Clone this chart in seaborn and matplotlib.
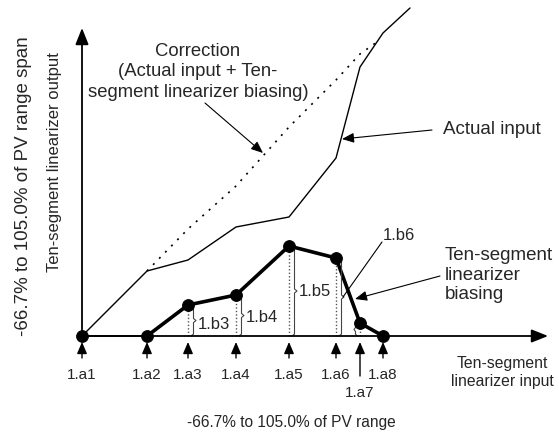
import numpy as np
import pandas as pd
import matplotlib
matplotlib.use("Agg")
import matplotlib.pyplot as plt
import seaborn as sns

# breakpoints of the ten-segment linearizer (input axis) and values
points = ["1.a1", "1.a2", "1.a3", "1.a4", "1.a5", "1.a6", "1.a7", "1.a8"]
inputs = [0, 65, 106, 154, 207, 254, 278, 301]
biasing = [0, 0, 31, 41, 90, 78, 13, 0]
actual = [0, 65, 76, 109, 119, 178, 269, 303]
actual_end = (328, 328)  # actual input continues past 1.a8

sns.set_style("white")
plt.rcParams["font.family"] = ["Liberation Sans", "DejaVu Sans"]

df = pd.DataFrame({"point": points, "x": inputs, "bias": biasing, "actual": actual})
df["correction"] = df["actual"] + df["bias"]
act = pd.concat([df[["x", "actual"]],
                 pd.DataFrame({"x": [actual_end[0]], "actual": [actual_end[1]]})],
                ignore_index=True)

fig = plt.figure(figsize=(5.59, 4.42), dpi=100)
ax = fig.add_axes([0, 0, 1, 1])
ax.set_xlim(-82, 477)
ax.set_ylim(-106, 336)
ax.axis("off")

# axes arrows
axarrow = dict(arrowstyle="-|>,head_length=0.5,head_width=0.2", mutation_scale=20,
               lw=1.3, color="black", shrinkA=0, shrinkB=0)
ax.annotate("", xy=(0, 308), xytext=(0, 0), arrowprops=axarrow)
ax.annotate("", xy=(466, 0), xytext=(0, 0), arrowprops=axarrow)

# lines
sns.lineplot(data=act, x="x", y="actual", sort=False, color="black", lw=1, ax=ax)
corr = df[df["x"] >= inputs[1]]
# correction stops just short of the actual line at the top
cx = list(corr["x"][:-1]) + [295]
cy = list(corr["correction"][:-1]) + [294]
ax.plot(cx, cy, color="black", lw=1.2, ls=(0, (1.2, 4)))
sns.lineplot(data=df[df["x"] >= inputs[1]], x="x", y="bias", sort=False,
             color="black", lw=2.6, ax=ax)
ax.plot([inputs[0], inputs[1]], [0, 0], color="black", lw=1.3)
sns.scatterplot(data=df, x="x", y="bias", color="black", s=72, edgecolor="black",
                zorder=5, ax=ax)

# dotted verticals and braces
def brace(x, top, w=5):
    mid = top / 2
    xs = [x, x + w / 2, x + w / 2, x + w, x + w / 2, x + w / 2, x]
    ys = [top, top - 2, mid + 2, mid, mid - 2, 2, 0]
    ax.plot(xs, ys, color="#444444", lw=0.8)

for i in range(2, 7):
    ax.plot([inputs[i], inputs[i]], [0, biasing[i]], color="#555555", lw=1,
            ls=(0, (1, 1.5)))
    if biasing[i] > 20:
        brace(inputs[i] + 3, biasing[i])
brace(inputs[6] - 3, biasing[6], w=-3)

ax.text(inputs[2] + 10, biasing[2] / 2 - 4, "1.b3", fontsize=12, va="center")
ax.text(inputs[3] + 10, biasing[3] / 2 - 2, "1.b4", fontsize=12, va="center")
ax.text(inputs[4] + 10, biasing[4] / 2, "1.b5", fontsize=12, va="center")
ax.text(301, 101, "1.b6", fontsize=12, va="center")
ax.plot([300, 261], [94, biasing[5] / 2], color="black", lw=0.8)

# tick arrows and labels
tickarrow = dict(arrowstyle="-|>,head_length=0.7,head_width=0.3", mutation_scale=10,
                 lw=1, color="black", shrinkA=0, shrinkB=0)
for p, x in zip(points, inputs):
    low = -40 if p == "1.a7" else -22
    ax.annotate("", xy=(x, -6), xytext=(x, low), arrowprops=tickarrow)
    ax.text(x, -57 if p == "1.a7" else -39, p, fontsize=11, ha="center", va="center")

# annotations
thin = dict(arrowstyle="-|>,head_length=0.6,head_width=0.25", mutation_scale=12,
            lw=0.8, color="black", shrinkA=0, shrinkB=0)
ax.text(116, 264, "Correction\n(Actual input + Ten-\nsegment linearizer biasing)",
        fontsize=13.3, ha="center", va="center", linespacing=1.25)
ax.annotate("", xy=(181, 183), xytext=(123, 233), arrowprops=thin)
ax.text(361, 206, "Actual input", fontsize=13.5, va="center")
ax.annotate("", xy=(260, 197), xytext=(350, 206), arrowprops=thin)
ax.text(363, 61, "Ten-segment\nlinearizer\nbiasing", fontsize=13.5, va="center",
        linespacing=1.23)
ax.annotate("", xy=(273, 37), xytext=(358, 60), arrowprops=thin)
ax.text(420, -36.5, "Ten-segment\nlinearizer input", fontsize=11.3, ha="center",
        va="center", linespacing=1.3)

ax.text(209, -86, "-66.7% to 105.0% of PV range", fontsize=11.2, ha="center", va="center")
ax.text(-58, 150, "-66.7% to 105.0% of PV range span", fontsize=13.5, rotation=90,
        ha="center", va="center")
ax.text(-27, 174, "Ten-segment linearizer output", fontsize=12, rotation=90,
        ha="center", va="center")

fig.savefig("out.png", dpi=100)
